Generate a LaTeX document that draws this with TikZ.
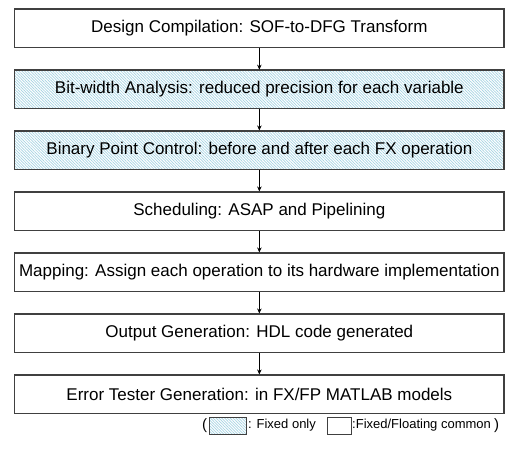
\documentclass[tikz,border=0pt]{standalone}
\usepackage{fontspec}
\setmainfont{Liberation Sans}
\usetikzlibrary{patterns.meta,arrows.meta}
\definecolor{hatchc}{HTML}{A6D3E2}
\definecolor{hatchbg}{HTML}{E4F3F7}
\tikzset{
  stepbox/.style={draw=black!75, line width=1.1pt, minimum width=489.3pt, minimum height=38.6pt, inner sep=0pt, font=\fontsize{17}{19}\selectfont, fill=white},
  fxbox/.style={stepbox, fill=hatchbg, pattern={Lines[angle=-45,distance=2pt,line width=0.7pt]}, pattern color=hatchc},
  conn/.style={line width=0.8pt, -{Stealth[length=5pt,width=4.5pt]}},
  legbox/.style={draw=black!75, line width=0.8pt, inner sep=0pt},
  legtext/.style={font=\fontsize{13}{15}\selectfont, inner sep=0pt, anchor=west}
}
\begin{document}
\begin{tikzpicture}[x=1pt,y=-1pt]
\useasboundingbox (0,0) rectangle (509,448);
\node[stepbox] (s1) at (259.35,28.3) {Design Compilation: SOF-to-DFG Transform};
\node[fxbox] (s2) at (259.35,89.3) {Bit-width Analysis: reduced precision for each variable};
\node[fxbox] (s3) at (259.35,150.3) {Binary Point Control: before and after each FX operation};
\node[stepbox] (s4) at (259.35,211.3) {Scheduling: ASAP and Pipelining};
\node[stepbox] (s5) at (259.35,272.3) {Mapping: Assign each operation to its hardware implementation};
\node[stepbox] (s6) at (259.35,333.3) {Output Generation: HDL code generated};
\node[stepbox] (s7) at (259.35,394.3) {Error Tester Generation: in FX/FP MATLAB models};
\foreach \a/\b in {s1/s2,s2/s3,s3/s4,s4/s5,s5/s6,s6/s7}
  \draw[conn] (\a.south) -- (\b.north);
% legend
\node[legtext] (lp) at (202,425.5) {\fontsize{15}{15}\selectfont(};
\path[legbox, fill=hatchbg, pattern={Lines[angle=-45,distance=2pt,line width=0.7pt]}, pattern color=hatchc] (209,417) rectangle (246,434);
\node[legtext] (l1) at (248,425.5) {: Fixed only};
\draw[legbox] (327,417) rectangle (351,434);
\node[legtext] (l2) at (352,425.5) {:Fixed/Floating common};
\node[legtext] (rp) at (494,425.5) {\fontsize{15}{15}\selectfont)};
\end{tikzpicture}
\end{document}
